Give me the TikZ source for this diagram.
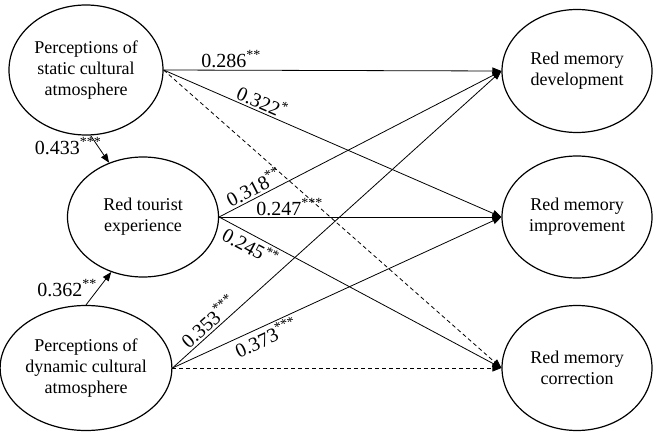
\documentclass[tikz,border=0pt]{standalone}
\usepackage{fontspec}
\setmainfont{Liberation Serif}
\usetikzlibrary{shapes.geometric,arrows.meta}
\begin{document}
\begin{tikzpicture}[x=1pt,y=-1pt,
  latent/.style={draw,ellipse,line width=1.2pt,inner sep=0pt,align=center,
    font=\fontsize{18}{21}\selectfont},
  path/.style={line width=0.8pt,-{Triangle[length=9pt,width=7pt]}},
  dpath/.style={path,dash pattern=on 4pt off 3pt},
  coef/.style={font=\fontsize{20}{24}\selectfont,inner sep=2pt}]
\useasboundingbox (0,0) rectangle (653,433);
\node[latent,minimum width=154pt,minimum height=130pt] (s) at (86,70) {Perceptions of\\static cultural\\atmosphere};
\node[latent,minimum width=151pt,minimum height=120pt] (e) at (143,217) {Red tourist\\experience};
\node[latent,minimum width=154pt,minimum height=125pt] (d) at (86,368) {Perceptions of\\dynamic cultural\\atmosphere};
\node[latent,minimum width=150pt,minimum height=123pt] (v) at (577,71) {Red memory\\development};
\node[latent,minimum width=150pt,minimum height=122pt] (i) at (577,217) {Red memory\\improvement};
\node[latent,minimum width=150pt,minimum height=125pt] (c) at (577,368) {Red memory\\correction};

\draw[path] (s.east) -- node[coef,pos=0.2,above] (l1) {0.286\textsuperscript{**}} (v.west);
\draw[path] (s.east) -- node[coef,pos=0.28,above,sloped] (l2) {0.322\textsuperscript{*}} (i.west);
\draw[dpath] (s.east) -- (c.west);
\draw[path] (s.-86) -- (e.122);
\node[coef] (l3) at (68,146) {0.433\textsuperscript{***}};

\draw[path] (e.east) -- node[coef,pos=0.14,above,sloped] (l4) {0.318\textsuperscript{**}} (v.west);
\draw[path] (e.east) -- node[coef,pos=0.25,above,inner sep=1pt] (l5) {0.247\textsuperscript{***}} (i.west);
\draw[path] (e.east) -- node[coef,pos=0.13,below,sloped] (l6) {0.245\textsuperscript{**}} (c.west);

\draw[path] (d.north) -- (e.240);
\node[coef] (l7) at (67,288) {0.362\textsuperscript{**}};
\draw[path] (d.east) -- node[coef,pos=0.13,above,sloped] (l8) {0.353\textsuperscript{***}} (v.west);
\draw[path] (d.east) -- node[coef,pos=0.27,below,sloped] (l9) {0.373\textsuperscript{***}} (i.west);
\draw[dpath] (d.east) -- (c.west);
\end{tikzpicture}
\end{document}
